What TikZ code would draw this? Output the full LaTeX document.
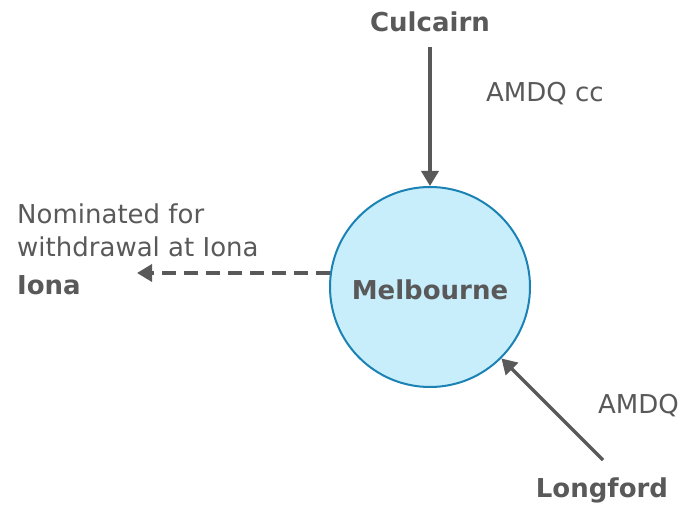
\documentclass[tikz,border=0pt]{standalone}
\usepackage{fontspec}
\setmainfont{DejaVu Sans}
\usetikzlibrary{arrows.meta}
\definecolor{txt}{HTML}{595959}
\definecolor{circfill}{HTML}{C8EEFB}
\definecolor{circline}{HTML}{1A82B4}
\tikzset{
  lbl/.style={text=txt, font=\fontsize{26}{32}\selectfont, inner sep=0pt},
  blbl/.style={text=txt, font=\fontsize{26}{32}\selectfont\bfseries, inner sep=0pt},
  flow/.style={draw=txt, line width=3.5pt, -{Triangle[width=17pt,length=15pt]}},
}
\begin{document}
\begin{tikzpicture}[x=1pt,y=-1pt]
\useasboundingbox (0,0) rectangle (683,505);
\node[circle, minimum size=200pt, inner sep=0pt, fill=circfill, draw=circline, line width=2pt] (mel) at (430,287) {};
\node[blbl] at (430,290) {Melbourne};
\node[blbl] (cul) at (430,22) {Culcairn};
\node[blbl] (lon) at (602,490) {Longford};
\node[lbl, anchor=west] (amdqcc) at (486,94) {AMDQ cc};
\node[lbl, anchor=west] (amdq) at (598,406) {AMDQ};
\node[lbl, anchor=west] (nom1) at (17,214) {Nominated for};
\node[lbl, anchor=west] (nom2) at (17,247) {withdrawal at Iona};
\node[blbl, anchor=west] (iona) at (17,285) {Iona};
\coordinate (culs) at (430,47);
\coordinate (lons) at (603,460);
\coordinate (dstart) at (330,273);
\coordinate (dend) at (137,273);
\draw[flow] (culs) -- (mel.north);
\draw[flow] (lons) -- (mel.-45);
\draw[flow, dash pattern=on 14pt off 8pt] (dstart) -- (dend);
\end{tikzpicture}
\end{document}
